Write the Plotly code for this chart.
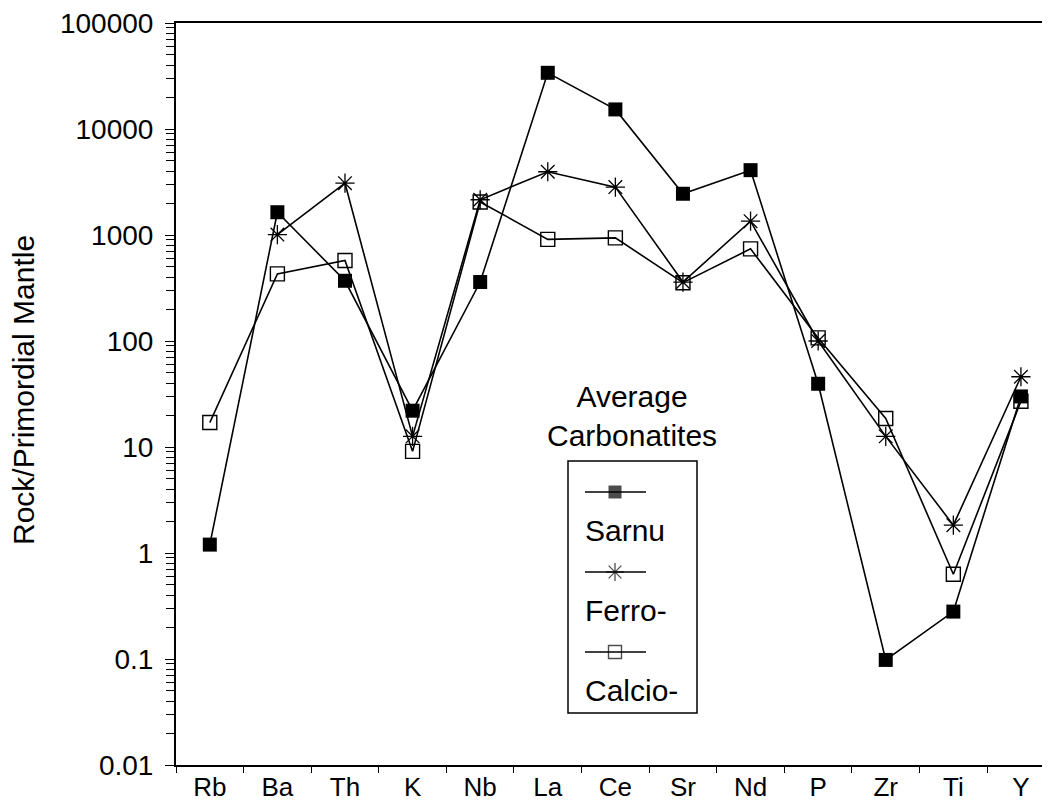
import plotly.graph_objects as go

# ---- data ----
elements = ["Rb", "Ba", "Th", "K", "Nb", "La", "Ce", "Sr", "Nd", "P", "Zr", "Ti", "Y"]
sarnu = [1.2, 1640, 370, 22, 360, 33900, 15300, 2450, 4090, 39.5, 0.098, 0.28, 30]
ferro = [None, 1010, 3080, 12.6, 2150, 3950, 2830, 360, 1350, 100, 12.6, 1.83, 46]
calcio = [17, 430, 575, 9.1, 2050, 910, 940, 355, 740, 107, 18.6, 0.63, 27]

ytick_vals = [0.01, 0.1, 1, 10, 100, 1000, 10000, 100000]
ytick_text = ["0.01", "0.1", "1", "10", "100", "1000", "10000", "100000"]

series_names = ["Sarnu", "Ferro-", "Calcio-"]
legend_title = "Average<br>Carbonatites"
y_title = "Rock/Primordial Mantle"

FONT = "Liberation Sans, Arial, Helvetica, sans-serif"
BODY = 8  # default page body margin in the browser
W, H = 1050 - BODY, 803 - BODY
ML, MR, MT, MB = 176 - BODY, 0, 23 - BODY, 38
PW, PH = W - ML - MR, H - MT - MB


def px_to_paper(sx, sy):
    return (sx - BODY - ML) / PW, (H - MB - (sy - BODY)) / PH


styles = [
    dict(symbol="square", size=14, color="black", line=dict(width=0, color="black")),
    dict(symbol="asterisk-open", size=16, color="black", line=dict(width=1.3, color="black")),
    dict(symbol="square-open", size=14, color="black", line=dict(width=1.4, color="black")),
]

fig = go.Figure()
for name, vals, st in zip(series_names, [sarnu, ferro, calcio], styles):
    fig.add_trace(go.Scatter(
        x=elements, y=vals, mode="lines+markers", name=name,
        line=dict(color="black", width=1.6),
        marker=st, showlegend=False, cliponaxis=False,
        connectgaps=False,
    ))

# ---- hand-made legend on an overlay axis expressed in screen pixels ----
box_l, box_r, box_t, box_b = 568, 697, 461, 713
key_x0, key_x1, key_mx = 585, 646, 615
key_ys = [492, 572, 652]
text_dy = 38

for name, st, ky in zip(series_names, styles, key_ys):
    fig.add_trace(go.Scatter(
        x=[key_x0, key_mx, key_x1], y=[ky, ky, ky], xaxis="x2", yaxis="y2",
        mode="lines+markers", line=dict(color="black", width=1.3),
        marker=dict(symbol=st["symbol"], size=[0, st["size"] - 1, 0], color="black",
                    line=st["line"]),
        showlegend=False, hoverinfo="skip", cliponaxis=False,
    ))
    fig.add_annotation(x=key_x0 - 2, y=ky + text_dy, xref="x2", yref="y2",
                       text=name, showarrow=False, xanchor="left", yanchor="middle",
                       font=dict(family=FONT, size=30, color="black"))

fig.add_shape(type="rect", x0=box_l, x1=box_r, y0=box_t, y1=box_b, xref="x2", yref="y2",
              line=dict(color="black", width=1.5), fillcolor="rgba(0,0,0,0)")
fig.add_annotation(x=632, y=416, xref="x2", yref="y2", text=legend_title, showarrow=False,
                   xanchor="center", yanchor="middle", align="center",
                   font=dict(family=FONT, size=30, color="black"))

tx, ty = px_to_paper(23, 390)
fig.add_annotation(x=tx, y=ty, xref="paper", yref="paper", text=y_title, showarrow=False,
                   textangle=-90, xanchor="center", yanchor="middle",
                   font=dict(family=FONT, size=30, color="black"))

fig.update_layout(
    width=W, height=H,
    margin=dict(l=ML, r=MR, t=MT, b=MB, pad=0),
    paper_bgcolor="white", plot_bgcolor="white",
    font=dict(family=FONT, size=26, color="black"),
    xaxis=dict(
        type="category", categoryorder="array", categoryarray=elements,
        range=[-0.5, 12.43], tickson="boundaries", ticks="outside", ticklen=6,
        tickwidth=1.3, tickcolor="black", showline=True, linecolor="black", linewidth=2,
        mirror=True, showgrid=False, zeroline=False, automargin=False,
        tickfont=dict(family=FONT, size=26, color="black"), ticklabeloverflow="allow",
        ticklabelstandoff=-2,
    ),
    yaxis=dict(
        type="log", range=[-2, 5], tickvals=ytick_vals, ticktext=ytick_text,
        ticks="outside", ticklen=9, tickwidth=1.3, tickcolor="black",
        showline=True, linecolor="black", linewidth=2, showgrid=False, zeroline=False,
        minor=dict(ticks="outside", ticklen=8, tickwidth=1.2, tickcolor="black",
                   dtick="D1", showgrid=False),
        tickfont=dict(family=FONT, size=28, color="black"),
        ticklabelstandoff=6, automargin=False, ticklabeloverflow="allow",
    ),
    xaxis2=dict(overlaying="x", range=[176, 1050], visible=False, fixedrange=True),
    yaxis2=dict(overlaying="y", range=[765, 23], visible=False, fixedrange=True),
)

fig.write_html("out.html")
